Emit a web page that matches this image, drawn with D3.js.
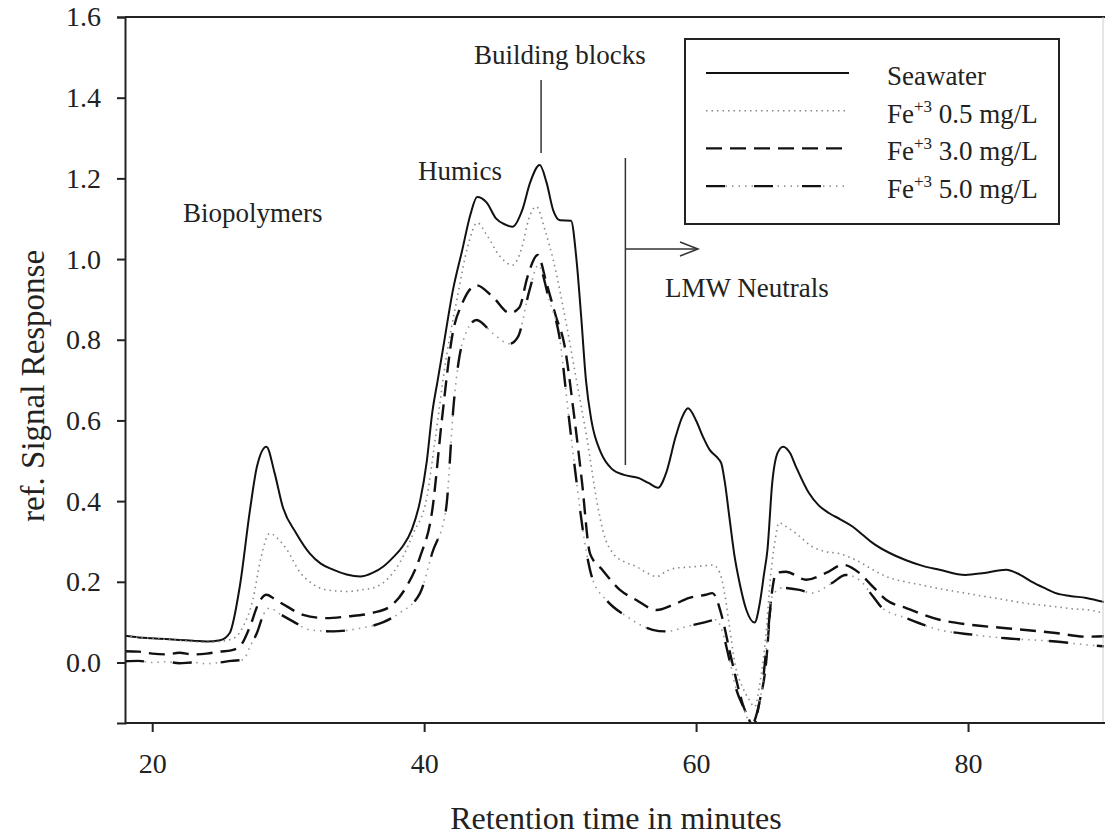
<!DOCTYPE html>
<html>
<head>
<meta charset="utf-8">
<script src="https://cdn.jsdelivr.net/npm/d3@7"></script>
<style>
  body { margin: 0; background: white; }
  svg text { font-family: "Liberation Serif", "Times New Roman", serif; }
</style>
</head>
<body>
<svg id="chart" width="1105" height="839"></svg>
<script>
// retention time (min), signal
let seawater = [[18,0.066],[19,0.062],[20,0.06],[21,0.058],[22,0.056],[23,0.054],[24,0.052],[25,0.055],[25.7,0.073],[26.45,0.19],[27.2,0.38],[27.7,0.485],[28.4,0.535],[29,0.47],[29.6,0.386],[30.6,0.32],[31.6,0.27],[32.4,0.245],[33.3,0.23],[34.3,0.218],[35.3,0.213],[36.2,0.222],[37,0.238],[37.7,0.26],[38.4,0.287],[39.1,0.33],[39.7,0.40],[40.2,0.5],[40.6,0.62],[41,0.7],[41.4,0.78],[42.1,0.92],[42.8,1.022],[43.4,1.11],[43.9,1.154],[44.6,1.14],[45.3,1.10],[46,1.085],[46.5,1.08],[47.2,1.12],[47.8,1.19],[48.5,1.233],[49,1.19],[49.5,1.12],[50,1.096],[50.8,1.095],[51.2,1.0],[51.55,0.857],[51.9,0.7],[52.3,0.6],[53,0.52],[53.8,0.48],[54.7,0.465],[55.8,0.457],[56.5,0.445],[57.2,0.433],[57.8,0.47],[58.5,0.56],[59,0.61],[59.4,0.63],[60,0.6],[60.5,0.56],[61,0.527],[61.5,0.51],[61.85,0.494],[62.1,0.45],[62.45,0.36],[62.8,0.27],[63.2,0.197],[63.7,0.13],[64.3,0.099],[64.7,0.15],[65,0.22],[65.25,0.28],[65.6,0.445],[66,0.52],[66.4,0.535],[66.9,0.52],[67.35,0.485],[68.3,0.42],[69,0.39],[69.8,0.37],[70.6,0.355],[71.5,0.337],[72.2,0.318],[73,0.296],[74.2,0.272],[75.4,0.254],[76.6,0.24],[77.9,0.23],[79.8,0.217],[81.2,0.222],[82.8,0.23],[83.8,0.218],[84.7,0.2],[85.6,0.185],[86.45,0.172],[87.5,0.165],[88.7,0.16],[90,0.15]];

let fe05 = [[18,0.065],[20,0.06],[22,0.055],[24,0.05],[25.5,0.055],[26.2,0.065],[26.7,0.09],[27.4,0.155],[28,0.26],[28.65,0.32],[29.3,0.305],[29.9,0.28],[30.9,0.222],[31.6,0.2],[32.3,0.185],[33.3,0.178],[34.3,0.176],[35.4,0.18],[36.5,0.188],[37.4,0.21],[38.2,0.247],[39.2,0.32],[40.2,0.41],[40.8,0.55],[41.6,0.75],[42.4,0.898],[43.2,1.03],[43.9,1.09],[44.6,1.06],[45.5,1.01],[46.5,0.985],[47.2,1.03],[47.7,1.1],[48.25,1.13],[48.9,1.07],[49.5,0.997],[50.45,0.84],[51.2,0.7],[52,0.55],[52.7,0.4],[53.2,0.32],[53.9,0.27],[54.7,0.25],[55.6,0.238],[56.4,0.222],[57.1,0.213],[57.8,0.226],[58.5,0.234],[59.3,0.236],[60,0.238],[60.7,0.24],[61.2,0.242],[61.6,0.232],[61.9,0.205],[62.2,0.15],[62.45,0.09],[62.9,-0.01],[63.4,-0.06],[63.9,-0.092],[64.3,-0.11],[64.7,-0.05],[65.1,0.056],[65.5,0.22],[65.8,0.3],[66.1,0.346],[66.7,0.335],[67.35,0.32],[68.55,0.287],[69.5,0.275],[70.5,0.27],[71.75,0.254],[73,0.23],[74.2,0.21],[75.4,0.2],[76.6,0.192],[77.9,0.183],[79.1,0.176],[81,0.165],[82.8,0.155],[84,0.148],[85.2,0.143],[86.5,0.138],[87.7,0.133],[88.9,0.13],[90,0.122]];

let fe30 = [[18,0.028],[19,0.027],[20,0.022],[21,0.02],[22,0.024],[23,0.02],[24,0.022],[25,0.027],[25.8,0.03],[26.45,0.04],[27.2,0.09],[27.8,0.145],[28.4,0.168],[29.1,0.155],[29.9,0.139],[31.1,0.118],[32.8,0.11],[34.3,0.114],[36.2,0.123],[37.5,0.139],[38.7,0.188],[39.7,0.262],[40.6,0.378],[41.3,0.6],[42.1,0.816],[42.8,0.89],[43.85,0.935],[45.05,0.906],[46.3,0.866],[47,0.88],[47.6,0.956],[48.35,1.01],[49,0.94],[49.7,0.857],[50.3,0.79],[51,0.62],[51.6,0.45],[52.2,0.27],[53.1,0.23],[54.4,0.18],[55.6,0.155],[57.1,0.13],[58.3,0.143],[59.5,0.16],[60.7,0.168],[61.2,0.172],[61.9,0.114],[62.45,0.031],[62.9,-0.035],[63.4,-0.1],[63.9,-0.142],[64.2,-0.16],[64.65,-0.1],[65.15,0.0],[65.5,0.15],[65.9,0.222],[66.6,0.225],[68.1,0.205],[69.55,0.222],[70.8,0.242],[72,0.222],[73,0.188],[74,0.155],[75.45,0.135],[77.9,0.106],[80.3,0.093],[82.8,0.085],[86.45,0.073],[88.65,0.064],[90,0.065]];

let fe50 = [[18,0.003],[19,0.004],[20,0.0],[21,0.002],[22,-0.002],[23,0.0],[24,-0.003],[25,0.0],[25.8,0.004],[26.7,0.007],[27.2,0.04],[27.7,0.073],[28.2,0.12],[28.65,0.135],[29.4,0.12],[30.35,0.102],[31.6,0.081],[33.3,0.077],[35.3,0.085],[37,0.1],[38.2,0.123],[39.7,0.172],[40.6,0.272],[41.6,0.378],[42.2,0.65],[42.8,0.79],[43.85,0.849],[45.05,0.816],[46.3,0.79],[46.9,0.807],[47.75,0.923],[48.4,0.985],[49.2,0.898],[49.95,0.807],[50.6,0.62],[51.2,0.45],[51.8,0.3],[52.4,0.205],[53.4,0.155],[54.9,0.114],[56.8,0.081],[57.8,0.077],[59.3,0.089],[60.7,0.1],[61.5,0.106],[61.9,0.08],[62.45,0.007],[62.9,-0.06],[63.65,-0.125],[64,-0.16],[64.4,-0.134],[64.9,-0.05],[65.3,0.08],[65.6,0.164],[66.35,0.185],[67.6,0.18],[68.55,0.172],[70,0.197],[71,0.217],[72,0.205],[73,0.164],[73.7,0.135],[75.45,0.11],[77.9,0.081],[80.3,0.069],[82.8,0.06],[86.45,0.052],[88.65,0.044],[90,0.04]];

let xTicks = [20, 40, 60, 80];
let yTicks = [0.0, 0.2, 0.4, 0.6, 0.8, 1.0, 1.2, 1.4, 1.6];
let legendLabels = ['Seawater', '0.5 mg/L', '3.0 mg/L', '5.0 mg/L'];

let svg = d3.select('#chart');
let margin = {top: 17, right: 1, bottom: 116, left: 125};
let W = 1105, H = 839;

let sx = d3.scaleLinear().domain([18, 90]).range([margin.left, W - margin.right]);
let sy = d3.scaleLinear().domain([-0.15, 1.6]).range([H - margin.bottom, margin.top]);

svg.append('clipPath').attr('id', 'clip')
  .append('rect')
  .attr('x', margin.left).attr('y', margin.top)
  .attr('width', W - margin.right - margin.left)
  .attr('height', H - margin.bottom - margin.top);

let line = d3.line().x(p => sx(p[0])).y(p => sy(p[1])).curve(d3.curveMonotoneX);

// styles: solid, gray dotted, dashed, dash + gray dots
let styles = [
  [{stroke: '#111', width: 2, dash: null}],
  [{stroke: '#888', width: 1.6, dash: '1.5,4'}],
  [{stroke: '#111', width: 2.4, dash: '16,8'}],
  [{stroke: '#999', width: 1.6, dash: '1.5,5'}, {stroke: '#111', width: 2.4, dash: '19,29'}]
];
let series = [seawater, fe05, fe30, fe50];

let plot = svg.append('g').attr('clip-path', 'url(#clip)');
series.forEach((s, i) => {
  styles[i].forEach(st => {
    plot.append('path')
      .attr('d', line(s))
      .attr('fill', 'none')
      .attr('stroke', st.stroke)
      .attr('stroke-width', st.width)
      .attr('stroke-dasharray', st.dash)
      .attr('stroke-linejoin', 'round');
  });
});

// frame
svg.append('line')
  .attr('x1', margin.left).attr('x2', W).attr('y1', margin.top).attr('y2', margin.top)
  .attr('stroke', '#222').attr('stroke-width', 2);
svg.append('line')
  .attr('x1', W - 2).attr('x2', W - 2).attr('y1', margin.top).attr('y2', H - margin.bottom)
  .attr('stroke', '#ccc').attr('stroke-width', 1);

let xAxis = svg.append('g')
  .attr('transform', `translate(0,${H - margin.bottom})`)
  .call(d3.axisBottom(sx).tickValues(xTicks).tickSize(9).tickPadding(21).tickFormat(d3.format('d')));
let yAxis = svg.append('g')
  .attr('transform', `translate(${margin.left},0)`)
  .call(d3.axisLeft(sy).tickValues(yTicks).tickSize(8).tickPadding(16).tickFormat(d3.format('.1f')));

[xAxis, yAxis].forEach(a => {
  a.attr('font-family', null).attr('font-size', null);
  a.select('.domain').attr('stroke', '#222').attr('stroke-width', 2);
  a.selectAll('.tick line').attr('stroke', '#222').attr('stroke-width', 2);
  a.selectAll('.tick text')
    .attr('fill', '#222')
    .style('font-size', '28px');
});
xAxis.selectAll('.domain').attr('d', `M${margin.left},0H${W}`);

svg.append('text')
  .attr('x', 616).attr('y', 829)
  .attr('text-anchor', 'middle')
  .attr('fill', '#222')
  .style('font-size', '32px')
  .text('Retention time in minutes');

svg.append('text')
  .attr('transform', 'translate(44,386) rotate(-90)')
  .attr('text-anchor', 'middle')
  .attr('fill', '#222')
  .style('font-size', '33px')
  .text('ref. Signal Response');

// annotations
let ann = svg.append('g').attr('fill', '#222').style('font-size', '27px');
ann.append('text').attr('x', 560).attr('y', 64).attr('text-anchor', 'middle').text('Building blocks');
ann.append('text').attr('x', 418).attr('y', 180).text('Humics');
ann.append('text').attr('x', 183).attr('y', 222).text('Biopolymers');
ann.append('text').attr('x', 665).attr('y', 297).text('LMW Neutrals');

svg.append('line').attr('x1', sx(48.6)).attr('x2', sx(48.6)).attr('y1', 80).attr('y2', 153)
  .attr('stroke', '#333').attr('stroke-width', 1.5);
let lmwX = sx(54.8);
svg.append('line').attr('x1', lmwX).attr('x2', lmwX).attr('y1', 158).attr('y2', 465)
  .attr('stroke', '#333').attr('stroke-width', 1.5);
svg.append('line').attr('x1', lmwX).attr('x2', 698).attr('y1', 249).attr('y2', 249)
  .attr('stroke', '#333').attr('stroke-width', 1.5);
svg.append('path').attr('d', 'M680,242 L698,249 L680,256')
  .attr('fill', 'none').attr('stroke', '#333').attr('stroke-width', 1.5);

// legend
let lg = svg.append('g');
lg.append('rect').attr('x', 685).attr('y', 39).attr('width', 374).attr('height', 185)
  .attr('fill', 'white').attr('stroke', '#222').attr('stroke-width', 2);
legendLabels.forEach((lab, i) => {
  let y = 73 + i * 37.7;
  styles[i].forEach(st => {
    lg.append('line')
      .attr('x1', 706).attr('x2', 849).attr('y1', y).attr('y2', y)
      .attr('stroke', st.stroke)
      .attr('stroke-width', st.width)
      .attr('stroke-dasharray', st.dash);
  });
  let t = lg.append('text').attr('x', 887).attr('y', y + 12).attr('fill', '#222').style('font-size', '27px');
  if (i === 0) {
    t.text(lab);
  } else {
    t.append('tspan').text('Fe');
    t.append('tspan').attr('dy', -11).style('font-size', '17px').text('+3');
    t.append('tspan').attr('dy', 11).text(' ' + lab);
  }
});
</script>
</body>
</html>
